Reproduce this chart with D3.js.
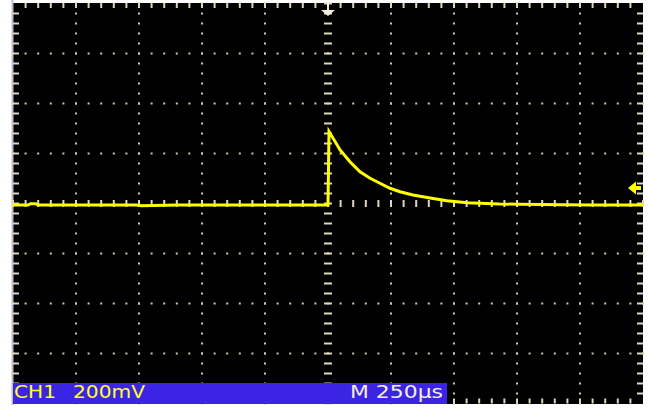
<!DOCTYPE html>
<html>
<head>
<meta charset="UTF-8">
<script src="https://d3js.org/d3.v7.min.js"></script>
<style>
  body { margin: 0; padding: 0; background: #fff; }
  svg { display: block; }
</style>
</head>
<body>
<svg id="scope"></svg>
<script>
// time in µs relative to trigger, voltage in mV
const traceTime = [-1250, -1190, -1180, -1160, -1150, -1000, -760, -740, -600, -300, -150, 0, 0, 4,
                   48, 87, 127, 167, 206, 246, 286, 337, 405, 472, 552, 603, 680, 762, 850, 921, 1050, 1250];
const traceVolt = [-6, -6, -1, -1, -6, -6, -6, -9, -6, -6, -6, -6, -6, 288,
                   214, 167, 127, 101, 81, 61, 47, 34, 22, 11, 3, 1, -2, -3, -4, -5, -6, -6];

const timeDiv = 250;   // µs / div
const voltDiv = 200;   // mV / div
const trigLevel = 62;  // mV
const chLabel = "CH1", voltLabel = "200mV", timeLabel = "M 250µs";

const W = 649, H = 408;
const scrLeft = 13, scrRight = 643, scrTop = 3.5, scrBottom = 403.5;

const svg = d3.select("#scope").attr("width", W).attr("height", H);

const x = d3.scaleLinear().domain([-5 * timeDiv, 5 * timeDiv]).range([scrLeft, scrRight]);
const y = d3.scaleLinear().domain([-4 * voltDiv, 4 * voltDiv]).range([scrBottom, scrTop]);

const gridCol = "#cfc6a8";
const tickCol = "#ddd5bc";

// screen
svg.append("rect").attr("x", scrLeft).attr("y", scrTop - 0.5).attr("width", scrRight - scrLeft).attr("height", scrBottom - scrTop + 1).attr("fill", "#000");
svg.append("rect").attr("x", scrLeft - 1.5).attr("y", 0).attr("width", 2).attr("height", 405).attr("fill", "#c4b8d2");

const majorX = d3.range(-5 * timeDiv, 5 * timeDiv + 1, timeDiv);
const majorY = d3.range(-4 * voltDiv, 4 * voltDiv + 1, voltDiv);
const minorX = d3.range(-5 * timeDiv, 5 * timeDiv + 1, timeDiv / 5);
const minorY = d3.range(-4 * voltDiv, 4 * voltDiv + 1, voltDiv / 5);

const grid = svg.append("g");
// dots along vertical grid lines
majorX.filter(t => t !== 0 && Math.abs(t) !== 5 * timeDiv).forEach(t => {
  grid.append("g").selectAll("rect").data(minorY).join("rect")
    .attr("x", x(t) - 1).attr("y", d => y(d) - 1).attr("width", 2).attr("height", 2).attr("fill", gridCol);
});
// dots along horizontal grid lines
majorY.filter(v => v !== 0 && Math.abs(v) !== 4 * voltDiv).forEach(v => {
  grid.append("g").selectAll("rect").data(minorX).join("rect")
    .attr("x", d => x(d) - 1).attr("y", y(v) - 1).attr("width", 2).attr("height", 2).attr("fill", gridCol);
});

// center cross ticks
grid.append("g").selectAll("rect").data(minorY).join("rect")
  .attr("x", x(0) - 4).attr("y", d => y(d) - 1).attr("width", 8).attr("height", 2).attr("fill", tickCol);
grid.append("g").selectAll("rect").data(minorX).join("rect")
  .attr("x", d => x(d) - 1).attr("y", y(0) - 3.5).attr("width", 2).attr("height", 7).attr("fill", tickCol);

// border ticks
grid.append("g").selectAll("rect").data(minorX.slice(1, -1)).join("rect")
  .attr("x", d => x(d) - 1).attr("y", scrTop - 0.5).attr("width", 2).attr("height", 5).attr("fill", tickCol);
grid.append("g").selectAll("rect").data(minorX.slice(1, -1)).join("rect")
  .attr("x", d => x(d) - 1).attr("y", scrBottom - 5).attr("width", 2).attr("height", 5).attr("fill", tickCol);
grid.append("g").selectAll("rect").data(minorY.slice(1, -1)).join("rect")
  .attr("x", scrLeft).attr("y", d => y(d) - 1).attr("width", 6).attr("height", 2).attr("fill", tickCol);
grid.append("g").selectAll("rect").data(minorY.slice(1, -1)).join("rect")
  .attr("x", scrRight - 6).attr("y", d => y(d) - 1).attr("width", 6).attr("height", 2).attr("fill", tickCol);

// trigger position marker
const tx = x(0);
svg.append("rect").attr("x", tx - 1).attr("y", scrTop - 0.5).attr("width", 2).attr("height", 8).attr("fill", "#f2eedc");
svg.append("path").attr("d", `M${tx - 7},10 L${tx + 7},10 L${tx},16 Z`).attr("fill", "#f2eedc");

// trace
const line = d3.line().x(d => x(d[0])).y(d => y(d[1]));
svg.append("path")
  .datum(traceTime.map((t, i) => [t, traceVolt[i]]))
  .attr("d", line)
  .attr("fill", "none")
  .attr("stroke", "#ffff00")
  .attr("stroke-width", 3)
  .attr("stroke-linejoin", "miter");

// trigger level arrow
const ty = y(trigLevel);
svg.append("path")
  .attr("d", `M${scrRight - 15},${ty} L${scrRight - 7},${ty - 6.5} L${scrRight - 7},${ty - 2} L${scrRight - 2},${ty - 2} L${scrRight - 2},${ty + 2} L${scrRight - 7},${ty + 2} L${scrRight - 7},${ty + 6.5} Z`)
  .attr("fill", "#ffff00");

// status bar
svg.append("rect").attr("x", scrLeft).attr("y", 383).attr("width", 434).attr("height", 21).attr("fill", "#3b24e3");
const txt = svg.append("g").style("font-family", "'DejaVu Sans', sans-serif").style("font-size", "17px");
txt.append("text").attr("x", 14).attr("y", 397.5).attr("textLength", 42).attr("lengthAdjust", "spacingAndGlyphs")
  .attr("fill", "#ffff30").text(chLabel);
txt.append("text").attr("x", 73).attr("y", 397.5).attr("textLength", 72).attr("lengthAdjust", "spacingAndGlyphs")
  .attr("fill", "#ffff30").text(voltLabel);
txt.append("text").attr("x", 350).attr("y", 397.5).attr("textLength", 93).attr("lengthAdjust", "spacingAndGlyphs")
  .attr("fill", "#f2eedc").text(timeLabel);
</script>
</body>
</html>
